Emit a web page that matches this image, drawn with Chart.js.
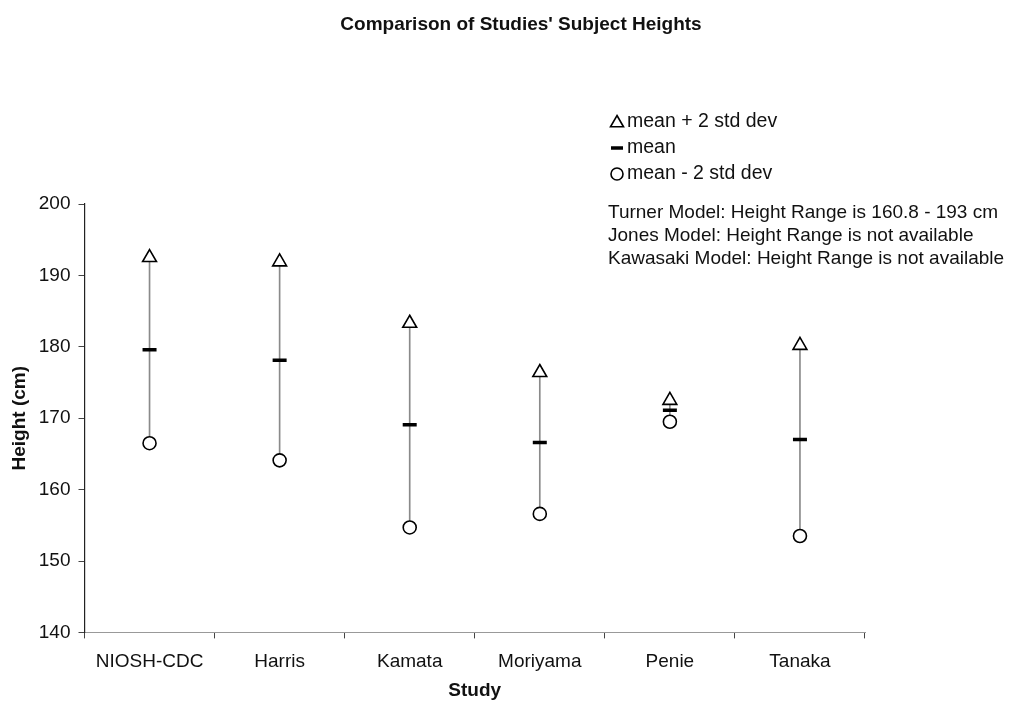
<!DOCTYPE html>
<html>
<head>
    <meta charset="utf-8" lang="en">
    <title>Comparison of Studies' Subject Heights</title>
    <script src="https://cdn.jsdelivr.net/npm/chart.js@4.4.1/dist/chart.umd.min.js"></script>
    <style>
        html, body {
            margin: 0;
            padding: 0;
            background: #fff;
        }

        #wrap {
            width: 1012px;
            height: 702px;
        }
    </style>
</head>
<body>
    <div id="wrap"><canvas id="heightChart"></canvas></div>

    <script>
        // values
        const studies = ['NIOSH-CDC', 'Harris', 'Kamata', 'Moriyama', 'Penie', 'Tanaka'];
        const upper = [192.5, 191.9, 183.3, 176.4, 172.5, 180.2];   // mean + 2 std dev
        const means = [179.6, 178.1, 169.1, 166.6, 171.1, 167.0];
        const lower = [166.5, 164.1, 154.7, 156.6, 169.5, 153.5];   // mean - 2 std dev
        const yMin = 140;
        const yMax = 200;
        const yStep = 10;
        const chartTitle = "Comparison of Studies' Subject Heights";
        const notes = [
            'Turner Model: Height Range is 160.8 - 193 cm',
            'Jones Model: Height Range is not available',
            'Kawasaki Model: Height Range is not available'
        ];

        const FONT = '"Liberation Sans", Arial, sans-serif';
        const ranges = studies.map((s, i) => [lower[i], upper[i]]);

        // title, marker legend and the model notes sit outside the plot box
        const notesPlugin = {
            id: 'notes',
            afterDraw(chart) {
                const ctx = chart.ctx;
                ctx.save();
                ctx.textBaseline = 'middle';
                ctx.fillStyle = '#111';
                ctx.textAlign = 'center';
                ctx.font = 'bold 19px ' + FONT;
                ctx.fillText(chartTitle, 521, 25);

                const x0 = 617;
                ctx.textAlign = 'left';
                ctx.font = '19.5px ' + FONT;
                const items = chart.data.datasets.filter(d => d.inLegend);
                items.forEach((d, i) => {
                    const y = 122 + i * 26;
                    ctx.strokeStyle = '#000';
                    ctx.fillStyle = '#fff';
                    const opts = {
                        pointStyle: d.pointStyle,
                        radius: d.pointStyle === 'triangle' ? 7.5 : 6,
                        rotation: 0,
                        borderWidth: d.pointStyle === 'line' ? 3.5 : 1.6
                    };
                    ctx.lineWidth = opts.borderWidth;
                    Chart.helpers.drawPoint(ctx, opts, x0, y + (d.pointStyle === 'triangle' ? 1 : 0));
                    ctx.fillStyle = '#111';
                    ctx.fillText(d.label, x0 + 10, y);
                });

                ctx.font = '19px ' + FONT;
                notes.forEach((t, i) => {
                    ctx.fillText(t, 608, 213 + i * 23);
                });
                ctx.restore();
            }
        };

        new Chart(document.getElementById('heightChart'), {
            type: 'line',
            data: {
                labels: studies,
                datasets: [
                    {
                        type: 'bar',
                        label: 'range',
                        data: ranges,
                        backgroundColor: '#8a8a8a',
                        barThickness: 1,
                        order: 10
                    },
                    {
                        label: 'mean + 2 std dev',
                        data: upper,
                        inLegend: true,
                        showLine: false,
                        pointStyle: 'triangle',
                        pointRadius: 8,
                        pointBackgroundColor: '#fff',
                        pointBorderColor: '#000',
                        pointBorderWidth: 1.6,
                        order: 1
                    },
                    {
                        label: 'mean',
                        data: means,
                        inLegend: true,
                        showLine: false,
                        pointStyle: 'line',
                        pointRadius: 7,
                        pointBorderColor: '#000',
                        pointBorderWidth: 3.5,
                        order: 1
                    },
                    {
                        label: 'mean - 2 std dev',
                        data: lower,
                        inLegend: true,
                        showLine: false,
                        pointStyle: 'circle',
                        pointRadius: 6.5,
                        pointBackgroundColor: '#fff',
                        pointBorderColor: '#000',
                        pointBorderWidth: 1.6,
                        order: 1
                    }
                ]
            },
            options: {
                responsive: true,
                maintainAspectRatio: false,
                animation: false,
                events: [],
                layout: {
                    padding: { top: 204, right: 147, bottom: 0, left: 3 }
                },
                plugins: {
                    legend: { display: false },
                    tooltip: { enabled: false },
                    title: { display: false }
                },
                scales: {
                    x: {
                        offset: true,
                        grid: { display: true, drawOnChartArea: false, offset: true, tickLength: 6, color: '#444' },
                        border: { color: '#999', dash: [6, 3], width: 1 },
                        ticks: { color: '#111', font: { family: FONT, size: 19 }, padding: 12 },
                        title: {
                            display: true,
                            text: 'Study',
                            color: '#111',
                            font: { family: FONT, size: 19, weight: 'bold' },
                            padding: { top: -6, bottom: 0 }
                        }
                    },
                    y: {
                        min: yMin,
                        max: yMax,
                        grid: { display: true, drawOnChartArea: false, tickLength: 6, color: '#444' },
                        border: { color: '#222', width: 1.2 },
                        ticks: { stepSize: yStep, color: '#111', font: { family: FONT, size: 19 }, padding: 8 },
                        title: {
                            display: true,
                            text: 'Height (cm)',
                            color: '#111',
                            font: { family: FONT, size: 19, weight: 'bold' },
                            padding: { top: 5, bottom: 0 }
                        }
                    }
                }
            },
            plugins: [notesPlugin]
        });
    </script>
</body>
</html>
